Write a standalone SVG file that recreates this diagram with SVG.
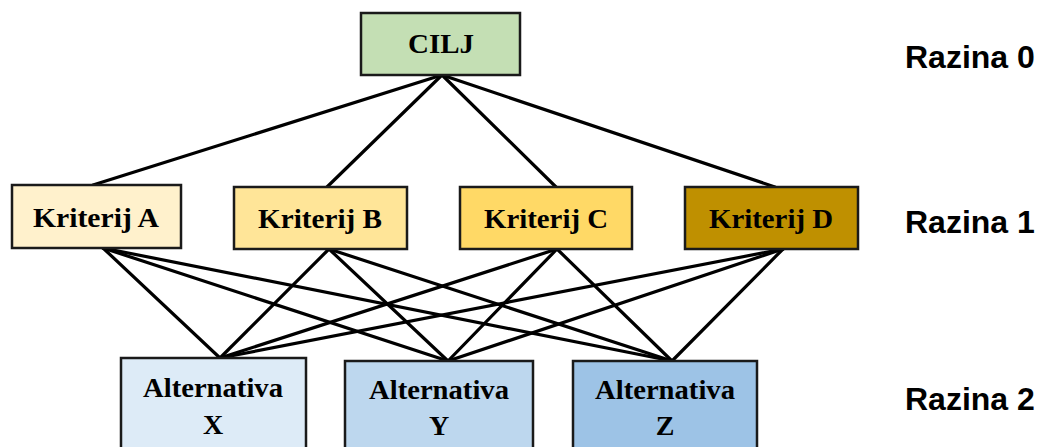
<svg xmlns="http://www.w3.org/2000/svg" width="1045" height="447" viewBox="0 0 1045 447">
<style>
.box{stroke:#1a1a1a;stroke-width:2.5}
.nt{font-family:"Liberation Serif","Times New Roman",serif;font-weight:bold;font-size:28px;fill:#000;text-anchor:middle}
.lv{font-family:"Liberation Sans",Arial,sans-serif;font-weight:bold;font-size:32px;fill:#000}
.edges line{stroke:#000;stroke-width:3.2;stroke-linecap:round}
</style>
<rect width="1045" height="447" fill="#fff"/>
<g class="edges" id="connectors">
<line x1="442" y1="75" x2="93" y2="185"/>
<line x1="442" y1="75" x2="327" y2="187"/>
<line x1="442" y1="75" x2="556" y2="187"/>
<line x1="442" y1="75" x2="775" y2="187"/>
<line x1="103" y1="248" x2="220" y2="358"/>
<line x1="103" y1="248" x2="448" y2="361"/>
<line x1="103" y1="248" x2="672" y2="361"/>
<line x1="329" y1="249" x2="220" y2="358"/>
<line x1="329" y1="249" x2="448" y2="361"/>
<line x1="329" y1="249" x2="672" y2="361"/>
<line x1="557" y1="249" x2="220" y2="358"/>
<line x1="557" y1="249" x2="448" y2="361"/>
<line x1="557" y1="249" x2="672" y2="361"/>
<line x1="783" y1="249" x2="220" y2="358"/>
<line x1="783" y1="249" x2="448" y2="361"/>
<line x1="783" y1="249" x2="672" y2="361"/>
</g>
<g id="cilj"><rect class="box" x="361" y="13" width="159" height="62" fill="#C4DFB4"/><text class="nt" x="441" y="53" textLength="66" lengthAdjust="spacingAndGlyphs">CILJ</text></g>
<g id="kriterij-a"><rect class="box" x="12" y="185" width="169" height="63" fill="#FFF1CC"/><text class="nt" x="96" y="227" textLength="126" lengthAdjust="spacingAndGlyphs">Kriterij A</text></g>
<g id="kriterij-b"><rect class="box" x="234" y="187" width="173" height="62" fill="#FFE598"/><text class="nt" x="320" y="228" textLength="124" lengthAdjust="spacingAndGlyphs">Kriterij B</text></g>
<g id="kriterij-c"><rect class="box" x="460" y="187" width="172" height="62" fill="#FFD966"/><text class="nt" x="546" y="228" textLength="124" lengthAdjust="spacingAndGlyphs">Kriterij C</text></g>
<g id="kriterij-d"><rect class="box" x="685" y="187" width="173" height="62" fill="#BF9000"/><text class="nt" x="771" y="228" textLength="124" lengthAdjust="spacingAndGlyphs">Kriterij D</text></g>
<g id="alt-x"><rect class="box" x="121" y="358" width="185" height="100" fill="#DDEBF7"/><text class="nt" x="213" y="397" textLength="140" lengthAdjust="spacingAndGlyphs">Alternativa</text><text class="nt" x="213" y="434">X</text></g>
<g id="alt-y"><rect class="box" x="345" y="361" width="188" height="100" fill="#BDD7EE"/><text class="nt" x="439" y="399" textLength="140" lengthAdjust="spacingAndGlyphs">Alternativa</text><text class="nt" x="439" y="435">Y</text></g>
<g id="alt-z"><rect class="box" x="573" y="361" width="184" height="100" fill="#9DC3E6"/><text class="nt" x="665" y="399" textLength="140" lengthAdjust="spacingAndGlyphs">Alternativa</text><text class="nt" x="665" y="435">Z</text></g>
<g id="levels">
<text class="lv" x="905" y="68">Razina 0</text>
<text class="lv" x="905" y="233">Razina 1</text>
<text class="lv" x="905" y="410">Razina 2</text>
</g>
</svg>
